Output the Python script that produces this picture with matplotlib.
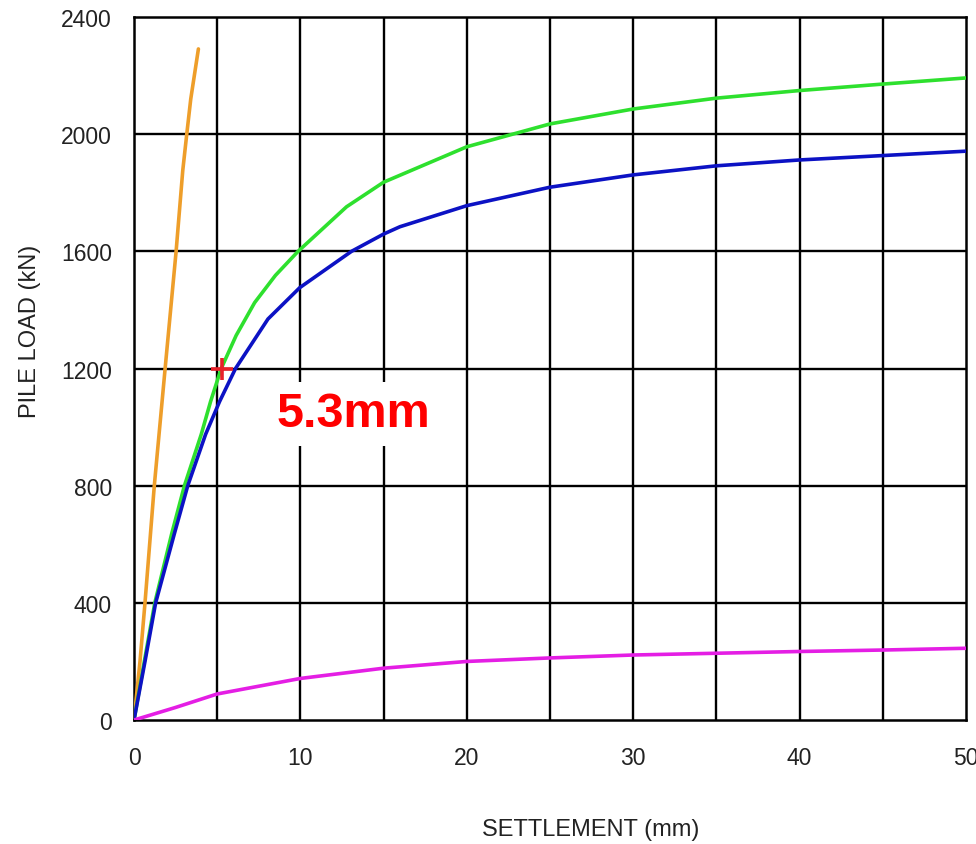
import numpy as np
import matplotlib
matplotlib.use('Agg')
import matplotlib.pyplot as plt

plt.rcParams['font.family'] = ['Liberation Sans', 'DejaVu Sans']

# settlement (mm) / load (kN)
orange_x = [0, 0.36, 0.66, 1.22, 1.87, 2.53, 2.93, 3.17, 3.41, 3.87]
orange_y = [0, 200, 400, 800, 1200, 1600, 1876, 2000, 2120, 2291]

green_x = [0, 0.62, 1.25, 2.27, 3.03, 4.04, 4.6, 5.24, 6.14, 7.25, 8.5, 9.86, 12.77, 15, 20, 25, 30, 35, 40, 45, 50]
green_y = [0, 200, 400, 637, 800, 975, 1087, 1200, 1313, 1425, 1518, 1600, 1752, 1836, 1957, 2035, 2086, 2123, 2149, 2171, 2192]

blue_x = [0, 0.66, 1.3, 2.43, 3.23, 4.3, 5.14, 6.1, 8.05, 9.96, 13.07, 15, 15.98, 20, 25, 30, 35, 40, 45, 50]
blue_y = [0, 200, 400, 637, 800, 975, 1087, 1200, 1369, 1476, 1600, 1659, 1684, 1756, 1819, 1861, 1892, 1912, 1927, 1942]

magenta_x = [0, 2.5, 5, 10, 15, 20, 25, 30, 35, 40, 45, 50]
magenta_y = [0, 43, 89, 142, 177, 200, 212, 222, 228, 234, 239, 245]

marker_x = 5.3
marker_y = 1200
marker_label = '5.3mm'

x_ticks = [0, 10, 20, 30, 40, 50]
y_ticks = [0, 400, 800, 1200, 1600, 2000, 2400]

fig = plt.figure(figsize=(9.76, 8.45), dpi=100)
ax = fig.add_axes([0.1373, 0.1467, 0.8525, 0.832])

# grid: every 5 mm vertically, every 400 kN horizontally
for gx in np.arange(5, 50, 5):
    ax.axvline(gx, color='black', lw=1.7, zorder=1)
for gy in y_ticks[1:-1]:
    ax.axhline(gy, color='black', lw=1.7, zorder=1)

ax.plot(orange_x, orange_y, color='#EE9E2A', lw=2.6, zorder=3, solid_capstyle='round')
ax.plot(green_x, green_y, color='#2EE02E', lw=2.6, zorder=3)
ax.plot(blue_x, blue_y, color='#0C12C4', lw=2.6, zorder=3)
ax.plot(magenta_x, magenta_y, color='#E41EE4', lw=2.6, zorder=3)

ax.plot([marker_x], [marker_y], marker='+', color='#E8202A', ms=16, mew=2.6, zorder=4)
ax.text(13.2, 1045, marker_label, color='#FF0000', fontsize=35, fontweight='bold',
        ha='center', va='center', zorder=5,
        bbox=dict(facecolor='white', edgecolor='none', pad=7))

ax.set_xlim(0, 50)
ax.set_ylim(0, 2400)
ax.set_xticks(x_ticks)
ax.set_yticks(y_ticks)
ax.tick_params(length=0, labelsize=16.5, colors='#222222')
ax.tick_params(axis='x', pad=19)
ax.tick_params(axis='y', pad=16)
for s in ax.spines.values():
    s.set_color('black')
    s.set_linewidth(1.8)
    s.set_zorder(2)

fig.text(0.6055, 0.0178, 'SETTLEMENT (mm)', fontsize=17, ha='center', va='center', color='#222222')
fig.text(0.0307, 0.6083, 'PILE LOAD (kN)', fontsize=17, rotation=90, ha='center', va='center', color='#222222')

fig.savefig('out.png', dpi=100)
